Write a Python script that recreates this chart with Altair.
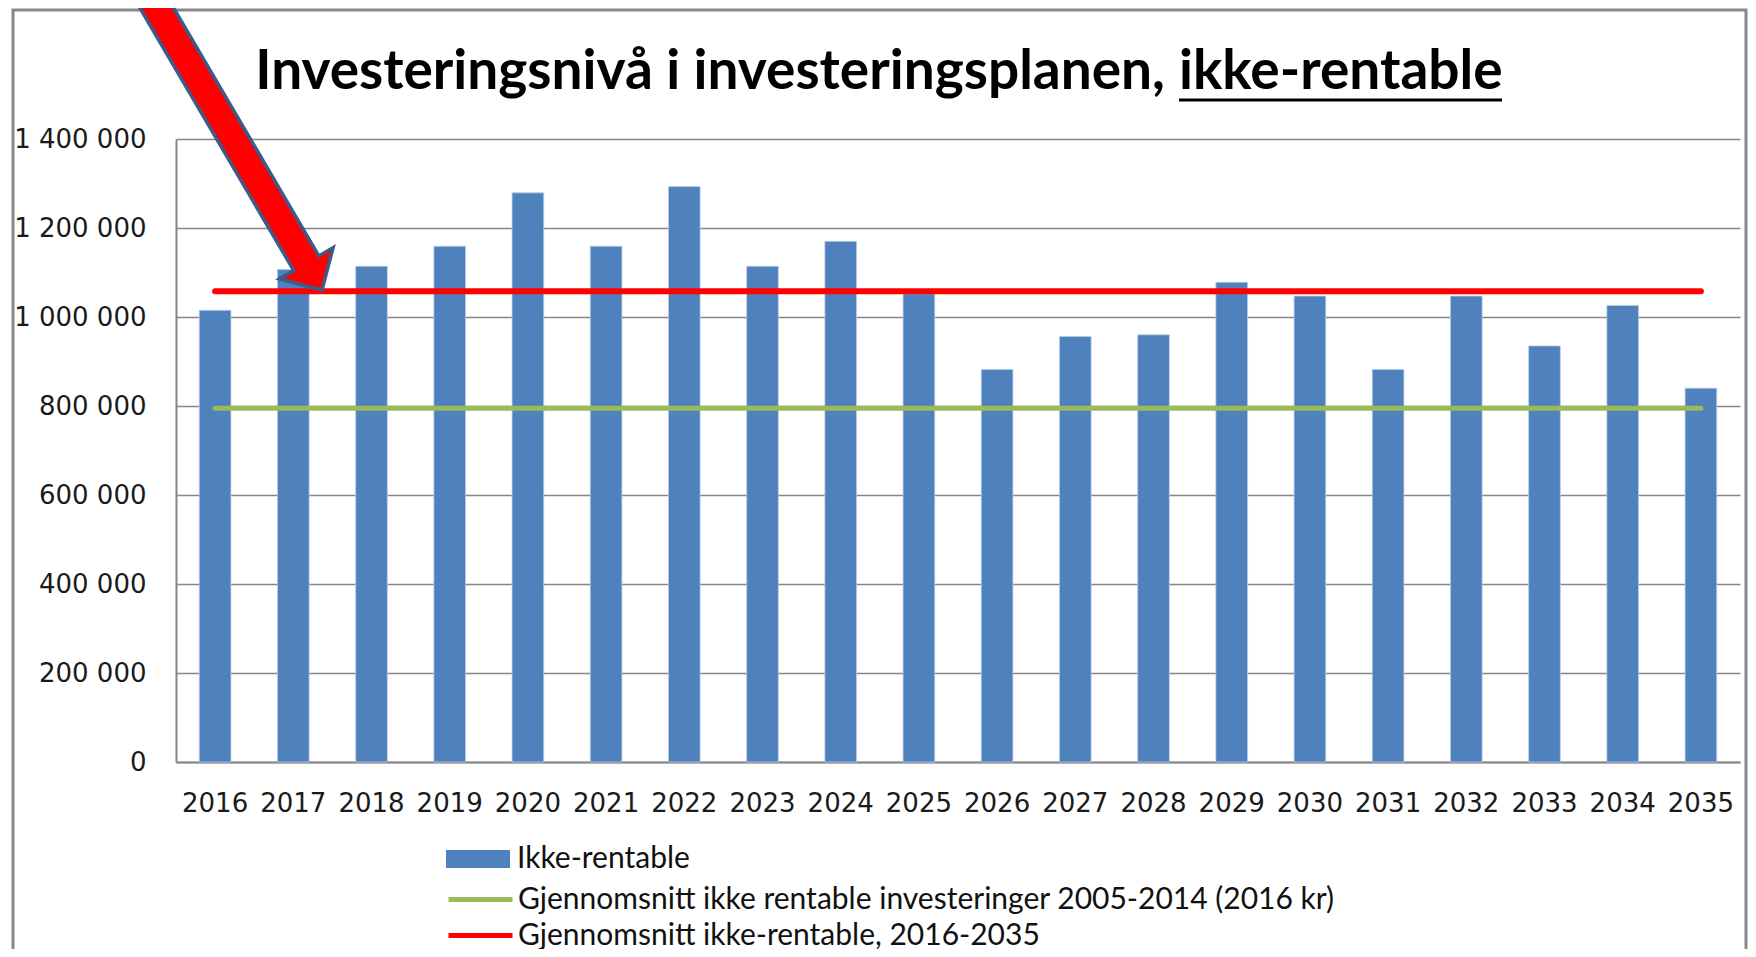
import math
import altair as alt
import pandas as pd

# ---------------- data ----------------
years = [str(y) for y in range(2016, 2036)]
ikke_rentable = [1015000, 1107000, 1114000, 1159000, 1279000, 1159000, 1293000,
                 1114000, 1170000, 1052000, 882000, 956000, 960000, 1078000,
                 1047000, 882000, 1047000, 935000, 1026000, 840000]
avg_2005_2014 = 795000
avg_2016_2035 = 1058000
line_years = ["2016", "2035"]
y_ticks = [0, 200000, 400000, 600000, 800000, 1000000, 1200000, 1400000]

label_bar = "Ikke-rentable"
label_green = "Gjennomsnitt ikke rentable investeringer 2005-2014 (2016 kr)"
label_red = "Gjennomsnitt ikke-rentable, 2016-2035"
title_main = "Investeringsnivå i investeringsplanen,"
title_ul = "ikke-rentable"

# ---------------- layout (page px) ----------------
OX, OY = 176, 139          # plot origin on page
W, H = 1564, 623           # plot area
TOTAL_H = 941
def px(x): return x - OX
def py(y): return y - OY

BLUE = "#4F81BD"
GREEN = "#9BBB59"
RED = "#FF0000"
GRID = "#868686"
TICK_FONT = "DejaVu Sans"
TEXT_FONT = "Lato"
TITLE_SIZE = 55
LEG_SIZE = 30

df_bar = pd.DataFrame({"year": years, "value": ikke_rentable, "s_bar": label_bar})
df_green = pd.DataFrame({"year": line_years, "value": [avg_2005_2014] * 2, "s_green": label_green})
df_red = pd.DataFrame({"year": line_years, "value": [avg_2016_2035] * 2, "s_red": label_red})
one = pd.DataFrame({"k": [0]})

label_expr = "replace(replace(format(datum.value, ','), ',', ' '), ',', ' ')"

xenc = alt.X("year:O", title=None,
             scale=alt.Scale(domain=years, paddingInner=0.595, paddingOuter=0.2975),
             axis=alt.Axis(labelAngle=0, labelFont=TICK_FONT, labelFontSize=26,
                           labelColor="#1a1a1a", labelPadding=41, labelBaseline="middle",
                           ticks=False, domainColor=GRID, domainWidth=2, grid=False,
                           labelOverlap=False))
yenc = alt.Y("value:Q", title=None,
             scale=alt.Scale(domain=[0, 1400000], nice=False),
             axis=alt.Axis(values=y_ticks, labelExpr=label_expr, labelFont=TICK_FONT,
                           labelFontSize=26, labelColor="#1a1a1a", labelPadding=30,
                           ticks=False, domainColor=GRID, domainWidth=2, grid=True,
                           gridColor=GRID, gridWidth=1.5, labelOverlap=False))

LEG_X = px(446)
def legend(row_y, offset, **kw):
    return alt.Legend(orient="none", legendX=LEG_X, legendY=py(row_y) - 32, title=None,
                      symbolSize=4096, labelFont=TEXT_FONT, labelFontSize=LEG_SIZE,
                      labelColor="#111", labelOffset=offset, labelLimit=0, padding=0, **kw)

bars = alt.Chart(df_bar).mark_bar(stroke="#B9CDE5", strokeWidth=0.8).encode(
    x=xenc, y=yenc,
    fill=alt.Fill("s_bar:N", scale=alt.Scale(domain=[label_bar], range=[BLUE]),
                  legend=legend(859, 7, symbolType="M-1,-0.28H1V0.28H-1Z",
                                symbolStrokeWidth=0)),
)

green = alt.Chart(df_green).mark_line(strokeWidth=5, strokeCap="round").encode(
    x="year:O", y="value:Q",
    stroke=alt.Stroke("s_green:N", scale=alt.Scale(domain=[label_green], range=[GREEN]),
                      legend=legend(897, 3, symbolType="stroke", symbolStrokeWidth=5)),
)

red = alt.Chart(df_red).mark_line(strokeWidth=6, strokeCap="round").encode(
    x="year:O", y="value:Q",
    color=alt.Color("s_red:N", scale=alt.Scale(domain=[label_red], range=[RED]),
                    legend=legend(933, 3, symbolType="stroke", symbolStrokeWidth=5)),
)

border = alt.Chart(one).mark_rect(fill="white", fillOpacity=0, stroke="#878787",
                                  strokeWidth=3).encode(
    x=alt.value(px(13)), x2=alt.value(px(1746)), y=alt.value(py(10)), y2=alt.value(py(1000)))

t1 = alt.Chart(one).mark_text(text=title_main, font=TEXT_FONT, fontWeight="bold",
                              fontSize=TITLE_SIZE, align="right", baseline="alphabetic",
                              color="black").encode(x=alt.value(px(1165)), y=alt.value(py(89)))
t2 = alt.Chart(one).mark_text(text=title_ul, font=TEXT_FONT, fontWeight="bold",
                              fontSize=TITLE_SIZE, align="left", baseline="alphabetic",
                              color="black").encode(x=alt.value(px(1179)), y=alt.value(py(89)))
ul = alt.Chart(one).mark_rule(strokeWidth=3, color="black").encode(
    x=alt.value(px(1179)), x2=alt.value(px(1502)), y=alt.value(py(100)))

# arrow annotation polygon
tip = (322.0, 290.0)
slope = 0.586
dl = math.hypot(slope, 1.0)
d = (slope / dl, 1.0 / dl)
n = (d[1], -d[0])
head_len, head_half, shaft_half = 31.0, 31.0, 14.5
B = (tip[0] - head_len * d[0], tip[1] - head_len * d[1])
t_back = (B[1] + 20.0) / d[1]
S = (B[0] - t_back * d[0], B[1] - t_back * d[1])
def pt(c, k):
    return (c[0] + k * n[0], c[1] + k * n[1])
poly = [pt(S, -shaft_half), pt(B, -shaft_half), pt(B, -head_half), tip,
        pt(B, head_half), pt(B, shaft_half), pt(S, shaft_half)]
path = "M" + "L".join(f"{px(x):.1f},{py(y):.1f}" for x, y in poly) + "Z"
arrow = alt.Chart(one).mark_point(shape=path, size=4, filled=True, fill=RED,
                                  stroke="#3B5B8A", strokeWidth=3.5, opacity=1,
                                  fillOpacity=1, strokeOpacity=1).encode(
    x=alt.value(0), y=alt.value(0))

chart = alt.layer(border, bars, green, red, t1, t2, ul, arrow).resolve_legend(
    fill="independent", stroke="independent", color="independent"
).properties(
    width=W, height=H,
    autosize=alt.AutoSizeParams(type="none"),
    padding={"left": OX - 8, "top": OY - 8, "right": 8, "bottom": TOTAL_H - (OY - 8) - H},
    background="white",
).configure_view(strokeWidth=0)

chart.save("out.html", embed_options={"renderer": "svg", "actions": False})
